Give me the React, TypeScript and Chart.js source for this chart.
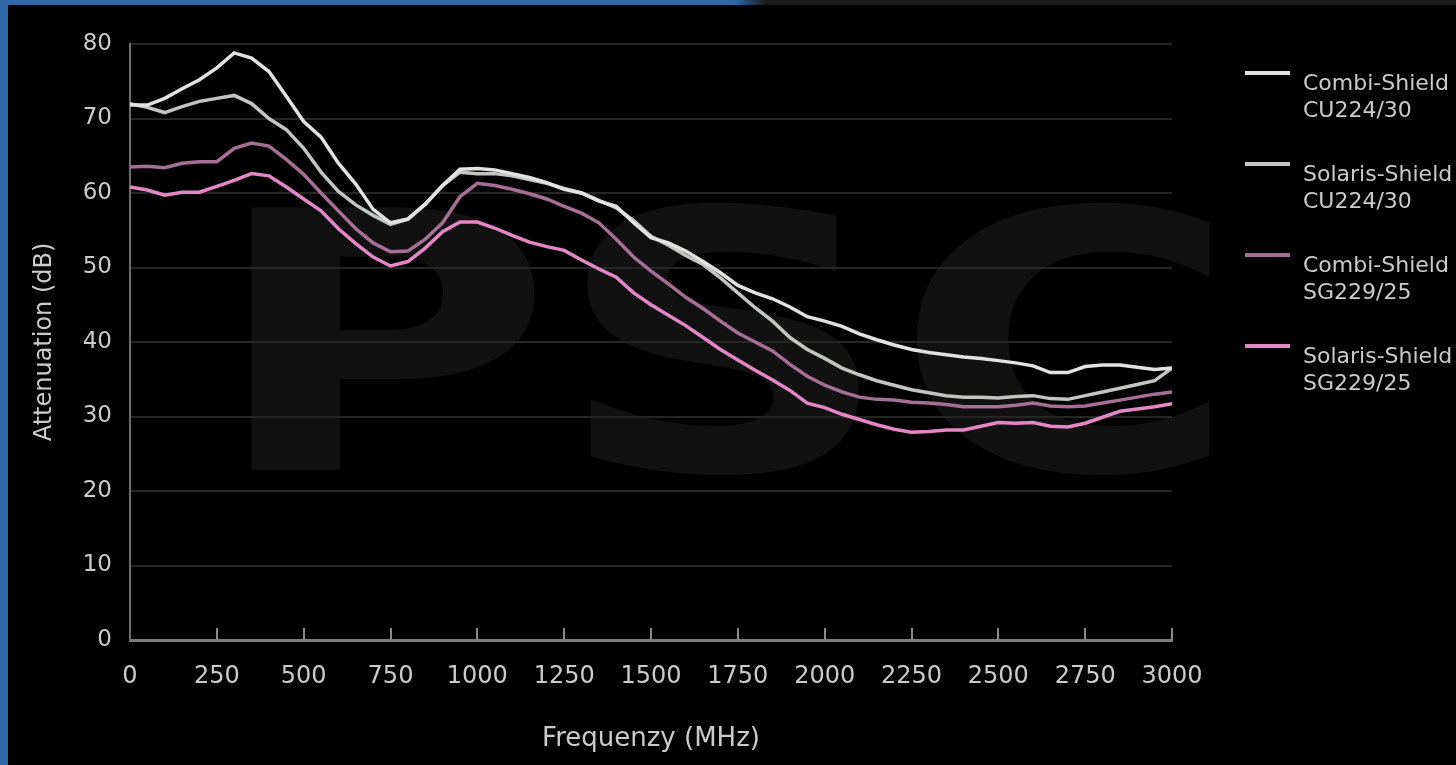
import React, { useEffect, useRef } from "react";
import { Chart, registerables } from "chart.js";

Chart.register(...registerables);

// ---------- data ----------
const FREQUENCY_MHZ = [
  0, 50, 100, 150, 200, 250, 300, 350, 400, 450, 500, 550, 600, 650, 700, 750, 800, 850, 900, 950,
  1000, 1050, 1100, 1150, 1200, 1250, 1300, 1350, 1400, 1450, 1500, 1550, 1600, 1650, 1700, 1750,
  1800, 1850, 1900, 1950, 2000, 2050, 2100, 2150, 2200, 2250, 2300, 2350, 2400, 2450, 2500, 2550,
  2600, 2650, 2700, 2750, 2800, 2850, 2900, 2950, 3000,
];

const COMBI_CU224 = [
  71.8, 71.8, 72.7, 74.0, 75.2, 76.8, 78.8, 78.1, 76.3, 73.0, 69.6, 67.5, 64.0, 61.2, 57.8, 56.0,
  56.5, 58.5, 61.0, 63.2, 63.3, 63.1, 62.6, 62.1, 61.4, 60.5, 60.0, 58.9, 58.2, 56.0, 54.0, 53.3,
  52.2, 50.8, 49.3, 47.6, 46.6, 45.8, 44.7, 43.4, 42.8, 42.1, 41.1, 40.3, 39.6, 39.0, 38.6, 38.3,
  38.0, 37.8, 37.5, 37.2, 36.8, 35.9, 35.9, 36.7, 36.9, 36.9, 36.6, 36.3, 36.5,
];

const SOLARIS_CU224 = [
  72.0, 71.5, 70.8, 71.6, 72.3, 72.7, 73.1, 72.0, 70.0, 68.5, 66.0, 62.8, 60.2, 58.4, 57.0, 55.8,
  56.5, 58.5, 61.0, 62.8, 62.6, 62.6, 62.3, 61.8, 61.3, 60.6, 60.0, 59.0, 58.0, 56.3, 54.2, 53.0,
  51.6, 50.4, 48.6, 46.6, 44.6, 42.8, 40.6, 39.0, 37.8, 36.5, 35.6, 34.8, 34.2, 33.6, 33.2, 32.8,
  32.6, 32.6, 32.5, 32.7, 32.8, 32.4, 32.3, 32.8, 33.3, 33.8, 34.3, 34.8, 36.5,
];

const COMBI_SG229 = [
  63.5, 63.6, 63.4, 64.0, 64.2, 64.2, 66.0, 66.7, 66.3, 64.5, 62.5, 60.0, 57.6, 55.2, 53.3, 52.1,
  52.2, 53.8, 56.0, 59.5, 61.3, 61.0, 60.5, 59.9, 59.2, 58.2, 57.3, 56.0, 53.8, 51.4, 49.5, 47.8,
  46.0, 44.5, 42.8, 41.2, 40.0, 38.8, 37.0, 35.4, 34.2, 33.3, 32.6, 32.3, 32.2, 31.9, 31.8, 31.6,
  31.3, 31.3, 31.3, 31.5, 31.8, 31.4, 31.3, 31.4, 31.8, 32.2, 32.6, 33.0, 33.3,
];

const SOLARIS_SG229 = [
  60.8, 60.4, 59.7, 60.1, 60.1, 60.9, 61.7, 62.6, 62.3, 60.8, 59.2, 57.6, 55.2, 53.2, 51.4, 50.2,
  50.8, 52.6, 54.8, 56.1, 56.1, 55.3, 54.3, 53.4, 52.8, 52.3, 51.0, 49.8, 48.7, 46.6, 45.0, 43.6,
  42.2, 40.6, 39.0, 37.6, 36.2, 34.9, 33.5, 31.8, 31.2, 30.3, 29.6, 28.9, 28.3, 27.9, 28.0, 28.2,
  28.2, 28.7, 29.2, 29.1, 29.2, 28.7, 28.6, 29.1, 29.9, 30.7, 31.0, 31.3, 31.7,
];

const SERIES_NAMES = [
  "Combi-Shield CU224/30",
  "Solaris-Shield CU224/30",
  "Combi-Shield SG229/25",
  "Solaris-Shield SG229/25",
];
const SERIES_VALUES = [COMBI_CU224, SOLARIS_CU224, COMBI_SG229, SOLARIS_SG229];
const SERIES_COLORS = ["#e2e2e2", "#c2c6c2", "#a66f96", "#e487c6"];

const X_TICKS = [0, 250, 500, 750, 1000, 1250, 1500, 1750, 2000, 2250, 2500, 2750, 3000];
const Y_TICKS = [0, 10, 20, 30, 40, 50, 60, 70, 80];
const X_TITLE = "Frequenzy (MHz)";
const Y_TITLE = "Attenuation (dB)";
const WATERMARK = "PSC";

const FONT = '"DejaVu Sans", Verdana, sans-serif';
const TEXT_COLOR = "#cbcbcb";

// ---------- plugins ----------
const watermarkPlugin = {
  id: "watermark",
  beforeDraw(chart: any) {
    const ctx = chart.ctx;
    ctx.save();
    ctx.font = `bold 370px ${FONT}`;
    const m = ctx.measureText(WATERMARK);
    const w = m.actualBoundingBoxLeft + m.actualBoundingBoxRight;
    const h = m.actualBoundingBoxAscent;
    const left = 245, right = 1210, top = 200, bottom = 470;
    ctx.translate(left, bottom);
    ctx.scale((right - left) / w, (bottom - top) / h);
    ctx.fillStyle = "#111111";
    ctx.textBaseline = "alphabetic";
    ctx.fillText(WATERMARK, m.actualBoundingBoxLeft, 0);
    ctx.restore();
  },
};

const innerTicksPlugin = {
  id: "innerTicks",
  afterDraw(chart: any) {
    const ctx = chart.ctx;
    const xs = chart.scales.x;
    const bottom = chart.chartArea.bottom;
    ctx.save();
    ctx.strokeStyle = "#8a8a8a";
    ctx.lineWidth = 2;
    X_TICKS.forEach((v) => {
      if (v === 0) return;
      const px = Math.round(xs.getPixelForValue(v));
      ctx.beginPath();
      ctx.moveTo(px, bottom);
      ctx.lineTo(px, bottom - 12);
      ctx.stroke();
    });
    ctx.restore();
  },
};

const sideLegendPlugin = {
  id: "sideLegend",
  afterDraw(chart: any) {
    const ctx = chart.ctx;
    ctx.save();
    const startY = 73;
    const step = 91;
    chart.data.datasets.forEach((ds: any, i: number) => {
      const y = startY + i * step;
      ctx.strokeStyle = ds.borderColor;
      ctx.lineWidth = 4;
      ctx.beginPath();
      ctx.moveTo(1245, y);
      ctx.lineTo(1290, y);
      ctx.stroke();
      const parts = String(ds.label).split(" ");
      ctx.fillStyle = TEXT_COLOR;
      ctx.font = `22px ${FONT}`;
      ctx.textAlign = "left";
      ctx.textBaseline = "middle";
      ctx.fillText(parts[0], 1303, y + 11);
      ctx.fillText(parts.slice(1).join(" "), 1303, y + 38);
    });
    ctx.restore();
  },
};

export default function App() {
  const canvasRef = useRef<HTMLCanvasElement | null>(null);

  useEffect(() => {
    if (!canvasRef.current) return;
    const datasets = SERIES_NAMES.map((name, i) => ({
      label: name,
      data: FREQUENCY_MHZ.map((f, j) => ({ x: f, y: SERIES_VALUES[i][j] })),
      borderColor: SERIES_COLORS[i],
      backgroundColor: SERIES_COLORS[i],
      borderWidth: 3.5,
      pointRadius: 0,
      tension: 0,
      fill: false,
    }));

    const chart = new Chart(canvasRef.current, {
      type: "line",
      data: { datasets },
      options: {
        animation: false,
        responsive: false,
        events: [],
        layout: { padding: { left: 0, top: 44, right: 284, bottom: 0 } },
        plugins: {
          legend: { display: false },
          tooltip: { enabled: false },
        },
        scales: {
          x: {
            type: "linear",
            min: 0,
            max: 3000,
            afterBuildTicks: (scale: any) => {
              scale.ticks = X_TICKS.map((v) => ({ value: v }));
            },
            afterFit: (scale: any) => {
              scale.height = 125;
            },
            grid: { display: false, drawTicks: false },
            border: { display: true, color: "#7c7c7c", width: 3 },
            ticks: {
              color: TEXT_COLOR,
              font: { family: FONT, size: 24 },
              padding: 22,
              maxRotation: 0,
              autoSkip: false,
              callback: (v: any) => String(v),
            },
            title: {
              display: true,
              text: X_TITLE,
              color: TEXT_COLOR,
              font: { family: FONT, size: 26 },
              padding: { top: 0, bottom: 10 },
            },
          },
          y: {
            type: "linear",
            min: 0,
            max: 80,
            afterBuildTicks: (scale: any) => {
              scale.ticks = Y_TICKS.map((v) => ({ value: v }));
            },
            afterFit: (scale: any) => {
              scale.width = 130;
            },
            grid: { color: "#262626", lineWidth: 2, drawTicks: false },
            border: { display: true, color: "#6c6c6c", width: 2 },
            ticks: {
              color: TEXT_COLOR,
              font: { family: FONT, size: 23 },
              padding: 18,
              autoSkip: false,
              callback: (v: any) => String(v),
            },
            title: {
              display: true,
              text: Y_TITLE,
              color: TEXT_COLOR,
              font: { family: FONT, size: 24 },
              padding: { top: 30, bottom: 0 },
            },
          },
        },
      },
      plugins: [watermarkPlugin, innerTicksPlugin, sideLegendPlugin],
    } as any);

    return () => chart.destroy();
  }, []);

  return (
    <div
      style={{
        position: "fixed",
        left: 0,
        top: 0,
        width: 1456,
        height: 765,
        background: "#000",
        overflow: "hidden",
      }}
    >
      <canvas
        ref={canvasRef}
        width={1456}
        height={765}
        style={{ position: "absolute", left: 0, top: 0, width: 1456, height: 765 }}
      />
      <div
        style={{
          position: "absolute",
          left: 0,
          top: 0,
          width: 1456,
          height: 5,
          background: "linear-gradient(to right, #2f6aa7 0px, #2f6aa7 735px, #1b1b1b 765px, #1b1b1b 100%)",
        }}
      />
      <div
        style={{
          position: "absolute",
          left: 0,
          top: 0,
          width: 8,
          height: 765,
          background: "#2f6aa7",
        }}
      />
    </div>
  );
}
